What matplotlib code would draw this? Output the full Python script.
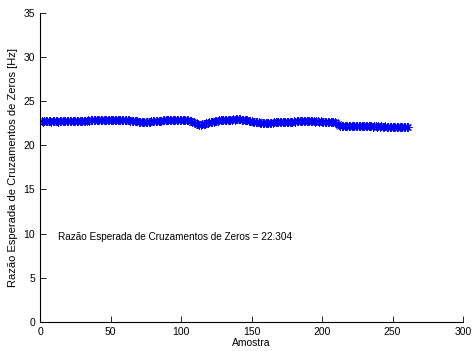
import matplotlib.pyplot as plt

# razao esperada de cruzamentos de zeros por amostra
zcr = [
    22.72, 22.70, 22.73, 22.71, 22.72, 22.74, 22.71, 22.70, 22.72, 22.73,
    22.71, 22.72, 22.70, 22.73, 22.72, 22.71, 22.73, 22.72, 22.74, 22.73,
    22.74, 22.75, 22.73, 22.76, 22.75, 22.77, 22.76, 22.78, 22.77, 22.79,
    22.80, 22.79, 22.81, 22.82, 22.81, 22.83, 22.84, 22.83, 22.85, 22.86,
    22.85, 22.87, 22.88, 22.87, 22.89, 22.90, 22.89, 22.91, 22.90, 22.92,
    22.91, 22.90, 22.92, 22.91, 22.90, 22.89, 22.90, 22.88, 22.89, 22.87,
    22.86, 22.84, 22.83, 22.81, 22.79, 22.77, 22.75, 22.73, 22.71, 22.70,
    22.68, 22.67, 22.66, 22.66, 22.65, 22.67, 22.68, 22.70, 22.71, 22.73,
    22.74, 22.76, 22.77, 22.79, 22.80, 22.81, 22.82, 22.83, 22.84, 22.84,
    22.85, 22.84, 22.86, 22.85, 22.86, 22.85, 22.87, 22.86, 22.85, 22.86,
    22.85, 22.84, 22.85, 22.83, 22.82, 22.80, 22.76, 22.70, 22.62, 22.54,
    22.46, 22.40, 22.36, 22.35, 22.38, 22.42, 22.47, 22.52, 22.56, 22.60,
    22.64, 22.67, 22.70, 22.73, 22.76, 22.79, 22.82, 22.85, 22.87, 22.89,
    22.90, 22.91, 22.92, 22.91, 22.93, 22.92, 22.94, 22.93, 22.95, 22.94,
    22.95, 22.94, 22.93, 22.91, 22.88, 22.85, 22.82, 22.79, 22.76, 22.73,
    22.70, 22.67, 22.65, 22.62, 22.60, 22.58, 22.57, 22.56, 22.55, 22.55,
    22.56, 22.55, 22.57, 22.58, 22.59, 22.61, 22.62, 22.63, 22.64, 22.65,
    22.66, 22.67, 22.68, 22.67, 22.69, 22.68, 22.70, 22.69, 22.70, 22.71,
    22.70, 22.71, 22.72, 22.71, 22.72, 22.71, 22.73, 22.72, 22.71, 22.72,
    22.73, 22.72, 22.71, 22.72, 22.70, 22.71, 22.72, 22.70, 22.71, 22.70,
    22.69, 22.70, 22.68, 22.69, 22.67, 22.66, 22.65, 22.63, 22.60, 22.55,
    22.45, 22.33, 22.22, 22.18, 22.17, 22.16, 22.17, 22.15, 22.16, 22.17,
    22.16, 22.15, 22.16, 22.17, 22.15, 22.16, 22.14, 22.15, 22.16, 22.15,
    22.14, 22.15, 22.16, 22.14, 22.15, 22.13, 22.14, 22.15, 22.13, 22.14,
    22.13, 22.14, 22.12, 22.13, 22.14, 22.12, 22.13, 22.12, 22.13, 22.11,
    22.12, 22.13, 22.11, 22.12, 22.11, 22.12, 22.10, 22.11, 22.12, 22.11,
    22.11,
]
amostras = list(range(1, len(zcr) + 1))
media_texto = 'Razão Esperada de Cruzamentos de Zeros = 22.304'

x_ticks = [0, 50, 100, 150, 200, 250, 300]
y_ticks = [0, 5, 10, 15, 20, 25, 30, 35]

plt.rcParams['font.family'] = ['Liberation Sans', 'DejaVu Sans']
plt.rcParams['font.size'] = 7.5

fig = plt.figure(figsize=(4.72, 3.51), dpi=100)
ax = fig.add_axes([0.085, 0.083, 0.896, 0.88])

ax.plot(amostras, zcr, color='#0000ff', linewidth=0.5,
        marker=(8, 2, 0), markersize=6, markeredgewidth=0.5)

ax.text(13, 9.6, media_texto, ha='left', va='center', fontsize=7.2)

ax.set_xlim(0, 300)
ax.set_ylim(0, 35)
ax.set_xticks(x_ticks)
ax.set_yticks(y_ticks)
ax.spines['top'].set_visible(False)
ax.spines['right'].set_visible(False)
ax.tick_params(direction='in', length=4, width=0.6, top=False, right=False)
for s in ['left', 'bottom']:
    ax.spines[s].set_linewidth(0.8)

ax.set_xlabel('Amostra', labelpad=1)
ax.set_ylabel('Razão Esperada de Cruzamentos de Zeros [Hz]', fontsize=8)
ax.yaxis.set_label_coords(-0.053, 0.5)

plt.savefig('out.png', dpi=100)
